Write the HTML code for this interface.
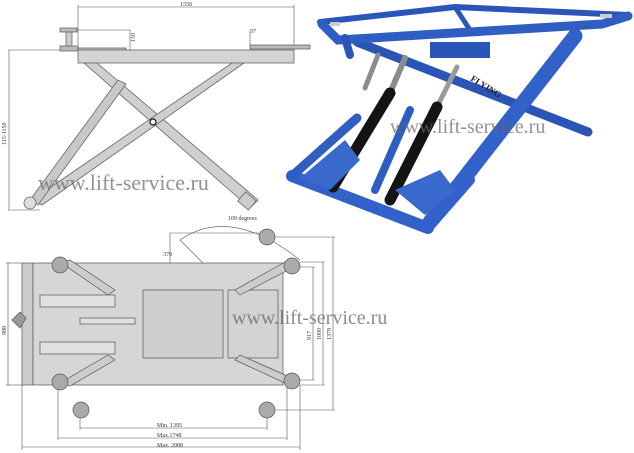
<!DOCTYPE html>
<html><head><meta charset="utf-8"><style>
html,body{margin:0;padding:0;background:#fff;}
svg{display:block}
text{font-family:"Liberation Serif",serif;}
</style></head><body>
<svg width="634" height="453" viewBox="0 0 634 453" xmlns="http://www.w3.org/2000/svg">
<rect width="634" height="453" fill="#fff"/>
<!-- SIDE VIEW -->
<g stroke="#555" stroke-width="0.6" fill="none">
<line x1="78" y1="5" x2="78" y2="50"/><line x1="294" y1="5" x2="294" y2="50"/>
<line x1="78" y1="7" x2="294" y2="7"/>
<line x1="60" y1="30" x2="130" y2="30"/><line x1="130" y1="30" x2="130" y2="50"/>
<line x1="250" y1="30" x2="250" y2="45"/>
<line x1="8" y1="50" x2="60" y2="50"/><line x1="8" y1="210" x2="40" y2="210"/>
<line x1="9" y1="50" x2="9" y2="210"/>
</g>
<text x="180" y="6" font-size="6" fill="#333">1550</text>
<text x="250" y="33" font-size="6" fill="#333">37</text>
<text x="135" y="42" font-size="6" fill="#333" transform="rotate(-90 135 42)">150</text>
<text x="6" y="145" font-size="6" fill="#333" transform="rotate(-90 6 145)">115-1150</text>
<g stroke="#666" stroke-width="0.8">
<rect x="60" y="28" width="17" height="4" fill="#bbb"/>
<rect x="66" y="32" width="6" height="14" fill="#ccc"/>
<rect x="60" y="46" width="18" height="5" fill="#bbb"/>
<rect x="78" y="48" width="48" height="3" fill="#bbb"/>
<rect x="250" y="45" width="60" height="4" fill="#bbb"/>
<rect x="78" y="50" width="216" height="13" fill="#d4d4d4"/>
<polygon points="84,63 97,63 258,200 250,208" fill="#cfcfcf"/>
<polygon points="232,63 244,63 42,205 32,200" fill="#cfcfcf"/>
<polygon points="118,80 126,84 38,205 30,200" fill="#c8c8c8"/>
<rect x="240" y="195" width="14" height="12" fill="#ccc" transform="rotate(40 247 201)"/>
<circle cx="30" cy="203" r="6" fill="#ddd"/>
<circle cx="153" cy="122" r="3" fill="#fff" stroke="#333" stroke-width="1.5"/>
</g>
<text x="38" y="190" font-size="22" fill="#777" opacity="0.8">www.lift-service.ru</text>
<!-- PHOTO -->
<g stroke-linecap="round" fill="none">
<!-- back beams of top frame -->
<path d="M320,22 L455,7 L628,15" stroke="#2b56b9" stroke-width="6"/>
<path d="M455,7 L470,30" stroke="#2b56b9" stroke-width="5"/>
<!-- arms -->
<path d="M357,42 L588,132" stroke="#2a55b6" stroke-width="9"/>
<path d="M575,36 L430,222" stroke="#3262c9" stroke-width="15"/>
<!-- front beam top frame -->
<path d="M322,24 L338,40 L602,24 L628,16" stroke="#2f5ec3" stroke-width="9"/>
<path d="M345,38 L350,55" stroke="#2b56b9" stroke-width="8"/>
<!-- base -->
<path d="M292,176 L428,228" stroke="#3262c9" stroke-width="12"/>
<path d="M292,176 L357,118" stroke="#2f5ec3" stroke-width="9"/>
<path d="M428,228 L470,180" stroke="#3262c9" stroke-width="10"/>
<!-- rods -->
<path d="M405,58 L390,93" stroke="#8c8c8c" stroke-width="6"/>
<path d="M457,67 L437,107" stroke="#9a9a9a" stroke-width="5"/>
<path d="M378,55 L365,88" stroke="#8c8c8c" stroke-width="5"/>
<!-- cylinders -->
<path d="M390,93 L333,187" stroke="#141414" stroke-width="11"/>
<path d="M437,107 L390,200" stroke="#141414" stroke-width="11"/>
<path d="M410,110 L375,190" stroke="#2f5ec3" stroke-width="8"/>
</g>
<polygon points="300,178 345,140 360,160 330,190" fill="#3a69cd"/>
<polygon points="395,190 440,170 455,190 425,215" fill="#3a69cd"/>
<rect x="430" y="42" width="60" height="16" fill="#2b56b9"/>
<rect x="330" y="22" width="10" height="4" fill="#ccc"/>
<rect x="600" y="14" width="12" height="4" fill="#ccc"/>
<text x="470" y="80" font-size="9" fill="#222" font-family="Liberation Sans" transform="rotate(32 470 80)" font-weight="bold">FLYING</text>
<text x="390" y="133" font-size="20" fill="#666" opacity="0.7">www.lift-service.ru</text>
<!-- BOTTOM VIEW -->
<g stroke="#555" stroke-width="0.6" fill="none">
<line x1="6" y1="263" x2="22" y2="263"/><line x1="6" y1="385" x2="22" y2="385"/>
<line x1="8" y1="263" x2="8" y2="385"/>
<line x1="80" y1="428" x2="267" y2="428"/>
<line x1="58" y1="438" x2="287" y2="438"/>
<line x1="22" y1="447" x2="300" y2="447"/>
<line x1="22" y1="385" x2="22" y2="450"/><line x1="300" y1="385" x2="300" y2="450"/>
<line x1="58" y1="385" x2="58" y2="440"/><line x1="287" y1="385" x2="287" y2="440"/>
<line x1="80" y1="410" x2="80" y2="430"/><line x1="267" y1="410" x2="267" y2="430"/>
<line x1="293" y1="267" x2="315" y2="267"/><line x1="293" y1="380" x2="315" y2="380"/>
<line x1="313" y1="267" x2="313" y2="380"/>
<line x1="300" y1="262" x2="325" y2="262"/><line x1="300" y1="385" x2="325" y2="385"/>
<line x1="323" y1="262" x2="323" y2="385"/>
<line x1="270" y1="237" x2="335" y2="237"/><line x1="270" y1="410" x2="335" y2="410"/>
<line x1="333" y1="237" x2="333" y2="410"/>
<line x1="170" y1="233" x2="170" y2="270"/><line x1="170" y1="233" x2="262" y2="233"/>
<line x1="205" y1="263" x2="205" y2="290"/><line x1="205" y1="360" x2="205" y2="385"/>
<path d="M180 240 L220 280 M180 240 Q230 205 300 260"/>
</g>
<g fill="#333" font-size="6">
<text x="228" y="220">109 degrees</text>
<text x="163" y="256">370</text>
<text x="203" y="282" transform="rotate(-90 203 282)">210</text>
<text x="203" y="382" transform="rotate(-90 203 382)">210</text>
<text x="311" y="340" transform="rotate(-90 311 340)">917</text>
<text x="321" y="340" transform="rotate(-90 321 340)">1000</text>
<text x="331" y="340" transform="rotate(-90 331 340)">1379</text>
<text x="6" y="335" transform="rotate(-90 6 335)">988</text>
<text x="157" y="427">Min. 1395</text>
<text x="157" y="437">Max.1748</text>
<text x="157" y="447">Max. 2088</text>
</g>
<g stroke="#555" stroke-width="0.7">
<rect x="22" y="263" width="11" height="122" fill="#ccc"/>
<rect x="33" y="263" width="250" height="122" fill="#d6d6d6"/>
<rect x="143" y="290" width="80" height="68" fill="#cfcfcf"/>
<rect x="228" y="290" width="50" height="68" fill="#d3d3d3"/>
<rect x="40" y="295" width="75" height="12" fill="#e0e0e0"/>
<rect x="40" y="342" width="75" height="12" fill="#e0e0e0"/>
<rect x="80" y="318" width="55" height="6" fill="#e0e0e0"/>
<polygon points="60,262 70,260 115,290 108,295" fill="#ccc"/>
<polygon points="60,383 70,386 115,360 108,355" fill="#ccc"/>
<polygon points="285,262 292,268 240,295 235,290" fill="#ccc"/>
<polygon points="285,383 292,378 240,355 235,360" fill="#ccc"/>
<polygon points="12,320 20,312 26,318 20,328" fill="#999"/>
</g>
<g fill="#aaa" stroke="#555" stroke-width="0.7">
<circle cx="60" cy="265" r="8"/><circle cx="60" cy="382" r="8"/>
<circle cx="292" cy="266" r="8"/><circle cx="292" cy="381" r="8"/>
<circle cx="81" cy="410" r="8"/><circle cx="267" cy="410" r="8"/>
<circle cx="267" cy="237" r="8"/>
</g>
<text x="232" y="324" font-size="20" fill="#666" opacity="0.75">www.lift-service.ru</text>
</svg>
</body></html>
